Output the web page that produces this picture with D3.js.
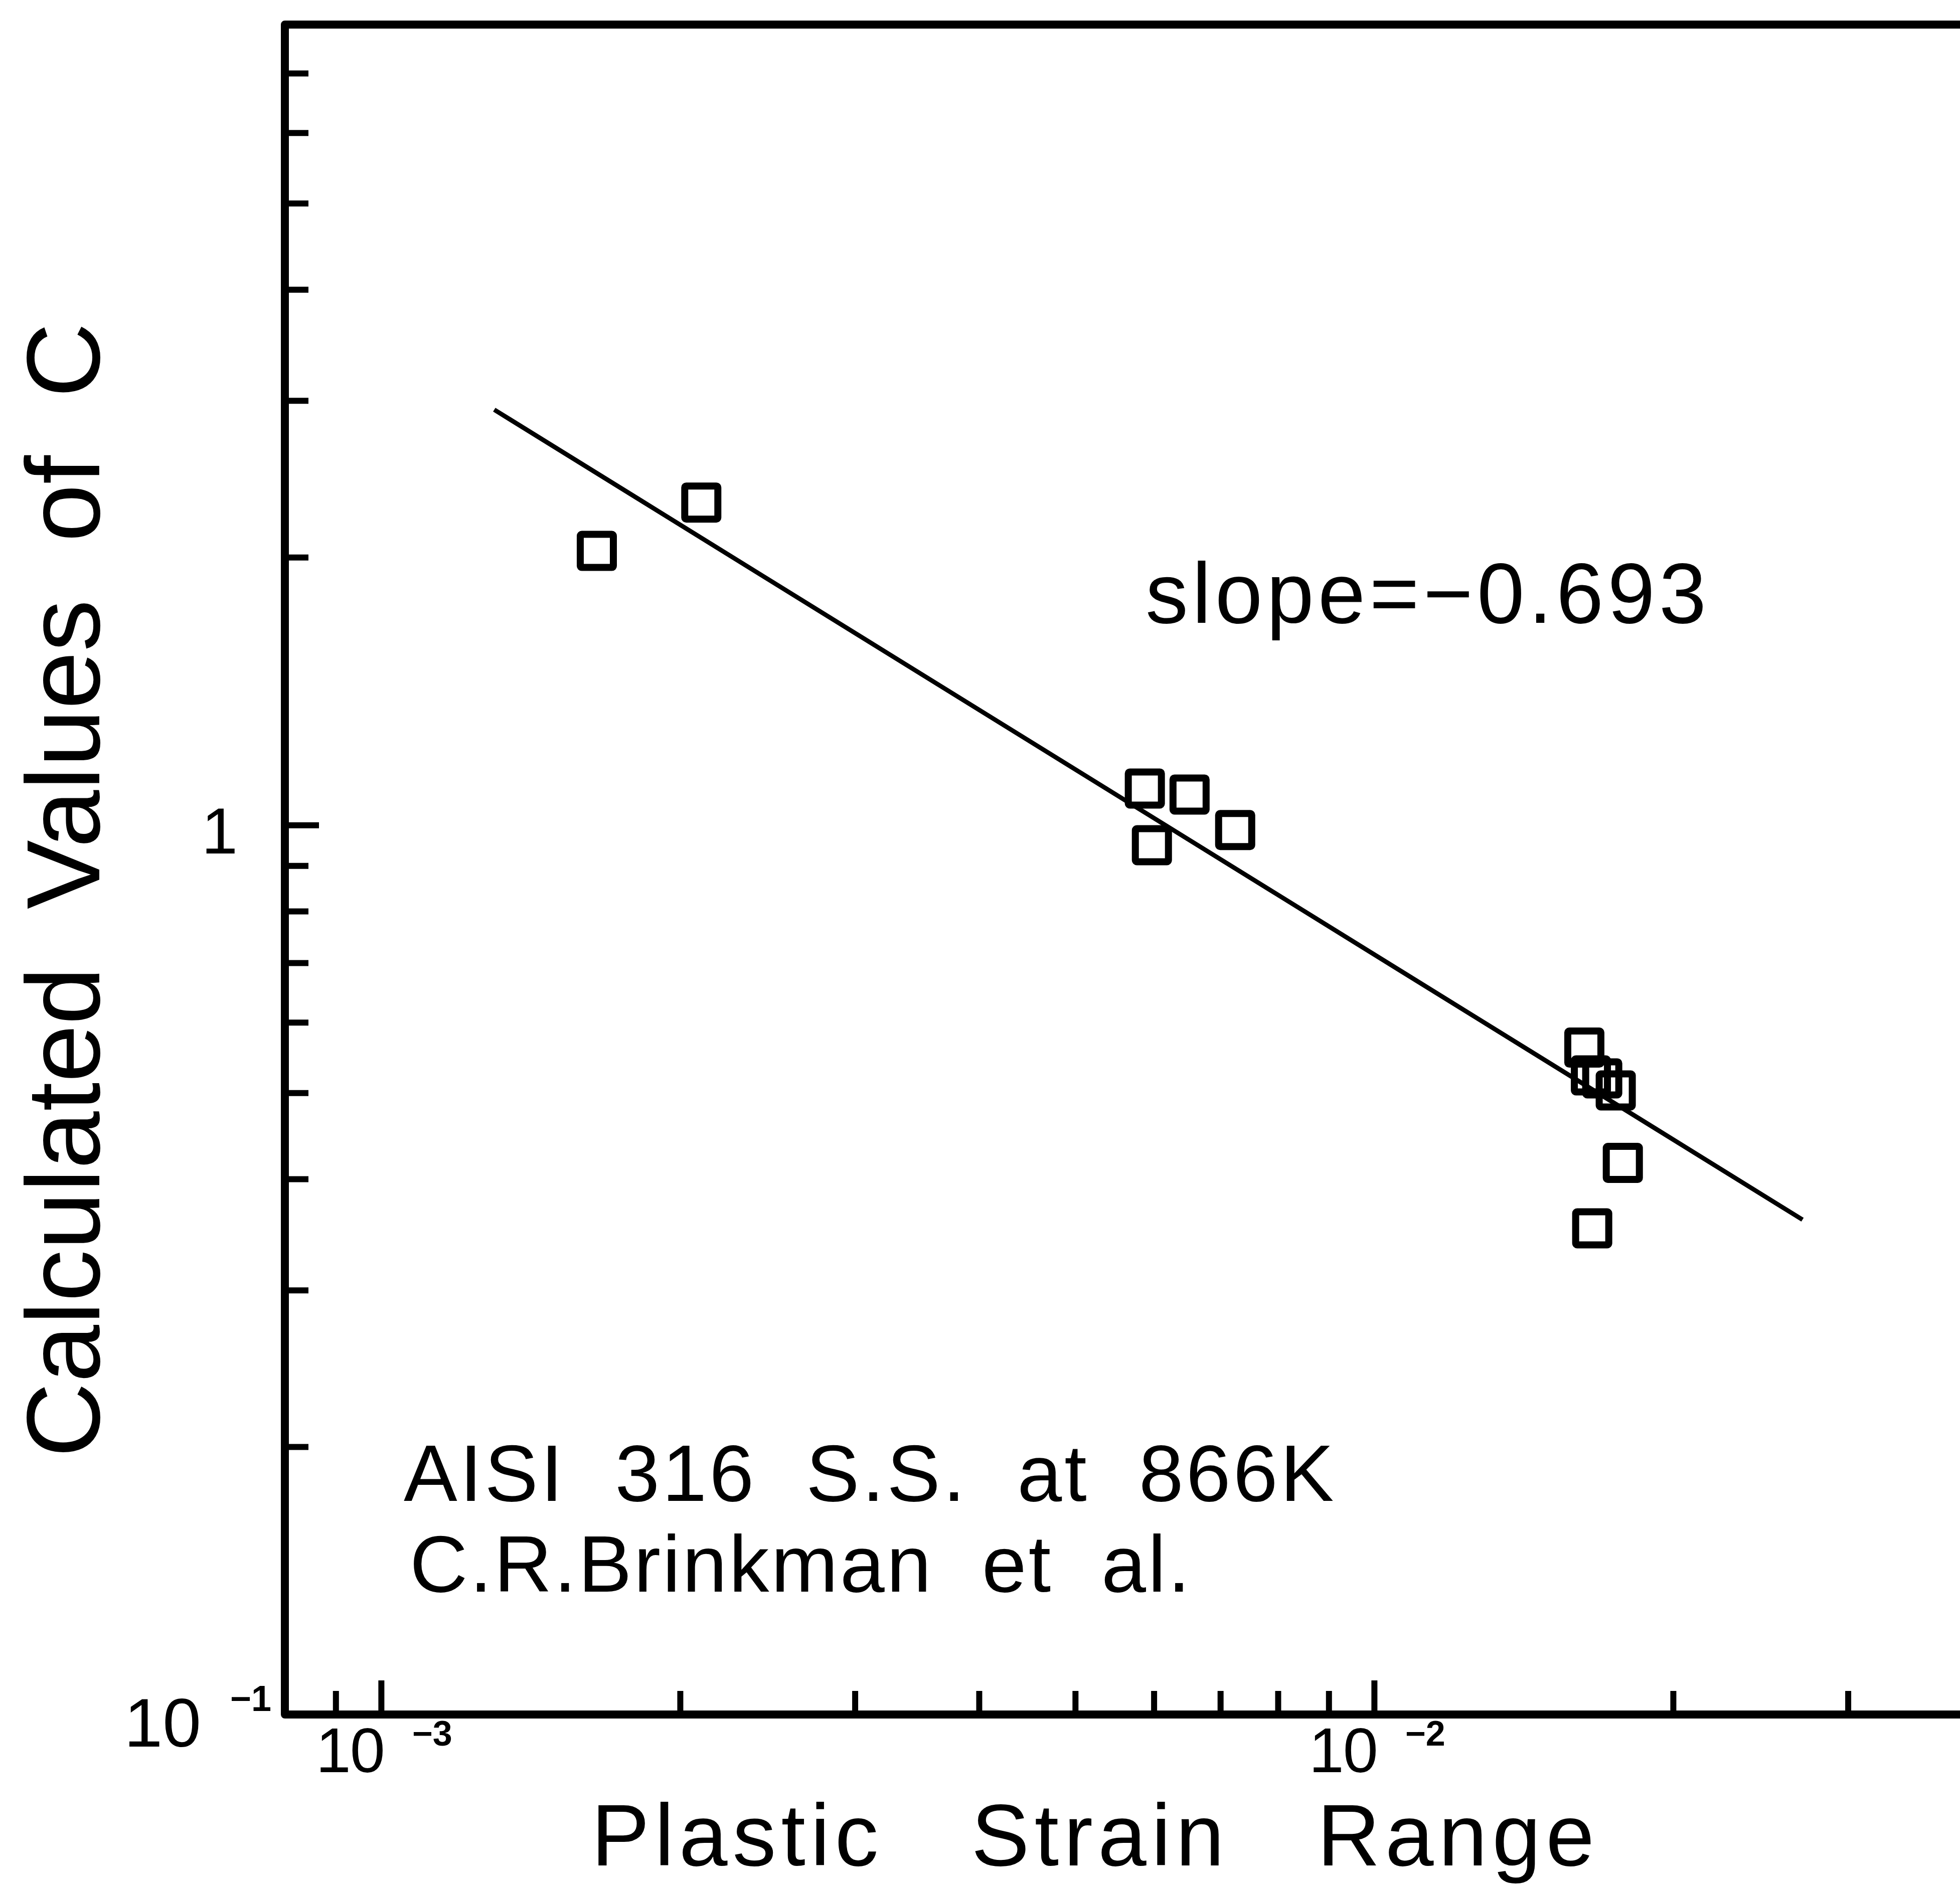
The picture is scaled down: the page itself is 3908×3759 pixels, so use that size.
<!DOCTYPE html>
<html>
<head>
<meta charset="utf-8">
<script src="https://cdn.jsdelivr.net/npm/d3@7"></script>
<style>
  html, body { margin: 0; padding: 0; background: #fff; }
  svg { display: block; }
  text { font-family: "Liberation Sans", Arial, sans-serif; fill: #000; white-space: pre; }
</style>
</head>
<body>
<svg id="chart"></svg>
<script>
// ---- data ----
const strainRange = [0.001649, 0.002101, 0.005876, 0.006518, 0.005973, 0.007245,
                     0.01628, 0.01653, 0.01697, 0.01751, 0.0178, 0.01658];
const valuesC     = [2.033, 2.304, 1.099, 1.082, 0.949, 0.987,
                     0.562, 0.523, 0.519, 0.503, 0.417, 0.352];

const fitStrain = [0.0013, 0.027];
const fitC      = [2.93, 0.36];

const xMajorTicks = [0.001, 0.01];
const xMinorTicks = [0.0009, 0.002, 0.003, 0.004, 0.005, 0.006, 0.007, 0.008, 0.009, 0.02, 0.03, 0.04];
const yMajorTicks = [1];
const yMinorTicks = [0.2, 0.3, 0.4, 0.5, 0.6, 0.7, 0.8, 0.9, 2, 3, 4, 5, 6, 7];

const xTickLabelValues = [0.001, 0.01];
const xTickLabelBase   = ["10", "10"];
const xTickLabelExp    = ["\u22123", "\u22122"];
const yTickLabelValues = [0.1, 1];
const yTickLabelBase   = ["10", "1"];
const yTickLabelExp    = ["\u22121", ""];

const xTitle = "Plastic   Strain   Range";
const yTitle = "Calculated  Values  of  C";
const slopeLabel = "slope=\u22120.693";
const sourceLines = ["AISI  316  S.S.  at  866K", "C.R.Brinkman  et  al."];

// ---- layout ----
const W = 3908, H = 3759;
const svg = d3.select("#chart").attr("width", W).attr("height", H);
svg.append("rect").attr("width", W).attr("height", H).attr("fill", "#fff");

const x = d3.scaleLog().domain([0.0008, 0.04]).range([568, 568 + Math.log10(50) * 1980]);
const y = d3.scaleLog().domain([0.1, 7.94]).range([3419, 49]);

const [x0, x1] = x.range();
const [yb, yt] = y.range();

// frame (left, top, bottom; right side lies outside the picture)
svg.append("path")
  .attr("d", `M${x1 + 60},${yt}H${x0}V${yb}H${x1 + 60}`)
  .attr("fill", "none").attr("stroke", "#000")
  .attr("stroke-width", 16).attr("stroke-linejoin", "round");

function styleTicks(g) {
  g.select(".domain").remove();
  g.selectAll(".tick line").attr("stroke", "#000").attr("stroke-width", 12);
}

svg.append("g").attr("transform", `translate(0,${yb})`)
  .call(d3.axisBottom(x).tickValues(xMinorTicks).tickSize(-47).tickFormat(""))
  .call(styleTicks);
svg.append("g").attr("transform", `translate(0,${yb})`)
  .call(d3.axisBottom(x).tickValues(xMajorTicks).tickSize(-68).tickFormat(""))
  .call(styleTicks);
svg.append("g").attr("transform", `translate(${x0},0)`)
  .call(d3.axisLeft(y).tickValues(yMinorTicks).tickSize(-47).tickFormat(""))
  .call(styleTicks);
svg.append("g").attr("transform", `translate(${x0},0)`)
  .call(d3.axisLeft(y).tickValues(yMajorTicks).tickSize(-68).tickFormat(""))
  .call(styleTicks);

// x tick labels (10 with superscript exponent)
xTickLabelValues.forEach((v, i) => {
  svg.append("text").attr("x", x(v) + 6).attr("y", yb + 115)
    .attr("text-anchor", "end").attr("font-size", 126).attr("letter-spacing", -2)
    .text(xTickLabelBase[i]);
  svg.append("text").attr("x", x(v) + 62).attr("y", yb + 62)
    .attr("text-anchor", "start").attr("font-size", 70).attr("font-weight", "bold")
    .text(xTickLabelExp[i]);
});

// y tick labels
yTickLabelValues.forEach((v, i) => {
  if (yTickLabelExp[i]) {
    svg.append("text").attr("x", 401).attr("y", y(v) + 64)
      .attr("text-anchor", "end").attr("font-size", 138).text(yTickLabelBase[i]);
    svg.append("text").attr("x", 459).attr("y", y(v) - 7)
      .attr("text-anchor", "start").attr("font-size", 72).attr("font-weight", "bold")
      .text(yTickLabelExp[i]);
  } else {
    svg.append("text").attr("x", 474).attr("y", y(v) + 57)
      .attr("text-anchor", "end").attr("font-size", 130).text(yTickLabelBase[i]);
  }
});

// fitted line
const pts = fitStrain.map((d, i) => [d, fitC[i]]);
svg.append("path")
  .attr("d", d3.line().x(d => x(d[0])).y(d => y(d[1]))(pts))
  .attr("fill", "none").attr("stroke", "#000").attr("stroke-width", 9);

// data squares
const side = 66;
svg.append("g").selectAll("rect")
  .data(strainRange.map((d, i) => ({ e: d, c: valuesC[i] })))
  .join("rect")
  .attr("x", d => x(d.e) - side / 2)
  .attr("y", d => y(d.c) - side / 2)
  .attr("width", side).attr("height", side)
  .attr("rx", 3)
  .attr("fill", "none").attr("stroke", "#000").attr("stroke-width", 14);

// annotations
svg.append("text").attr("x", 2284).attr("y", 1242)
  .attr("font-size", 170).attr("letter-spacing", 8).text(slopeLabel);

svg.append("text").attr("x", 805).attr("y", 2993)
  .attr("font-size", 160).attr("letter-spacing", 5).text(sourceLines[0]);
svg.append("text").attr("x", 817).attr("y", 3174)
  .attr("font-size", 160).attr("letter-spacing", 4).text(sourceLines[1]);

// axis titles
svg.append("text").attr("x", 2184).attr("y", 3720)
  .attr("text-anchor", "middle").attr("font-size", 174).attr("letter-spacing", 10).text(xTitle);
svg.append("text")
  .attr("transform", "translate(198,1775) rotate(-90)")
  .attr("text-anchor", "middle").attr("font-size", 207).text(yTitle);
</script>
</body>
</html>
